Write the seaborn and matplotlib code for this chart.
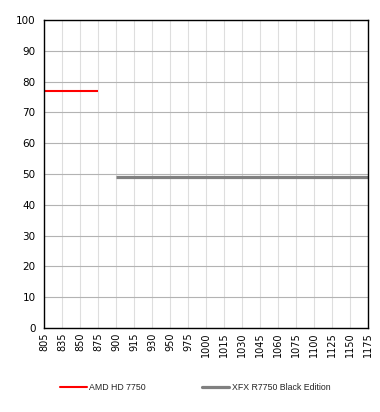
import matplotlib
matplotlib.use("Agg")
import matplotlib.pyplot as plt
import seaborn as sns
import pandas as pd
from matplotlib.lines import Line2D

categories = ["805", "835", "850", "875", "900", "915", "930", "950", "975", "1000",
              "1015", "1030", "1045", "1060", "1075", "1100", "1125", "1150", "1175"]
amd_x = ["805", "835", "850", "875"]
amd_y = [77, 77, 77, 77]
xfx_x = ["900", "915", "930", "950", "975", "1000", "1015", "1030", "1045", "1060",
         "1075", "1100", "1125", "1150", "1175"]
xfx_y = [49] * 15
series_names = ["AMD HD 7750", "XFX R7750 Black Edition"]
y_ticks = [0, 10, 20, 30, 40, 50, 60, 70, 80, 90, 100]

sns.set_theme(style="white")
plt.rcParams["font.family"] = ["DejaVu Sans"]

pos = {c: i for i, c in enumerate(categories)}
df = pd.DataFrame({
    "x": [pos[c] for c in amd_x] + [pos[c] for c in xfx_x],
    "y": amd_y + xfx_y,
    "series": [series_names[0]] * len(amd_x) + [series_names[1]] * len(xfx_x),
})

fig = plt.figure(figsize=(3.8, 4.12), dpi=100)
ax = fig.add_axes([44 / 380, 1 - 328 / 412, (368 - 44) / 380, (328 - 20) / 412])

palette = {series_names[0]: "#ff0000", series_names[1]: "#808080"}
for name, lw in zip(series_names, [1.5, 2.3]):
    sub = df[df["series"] == name]
    sns.lineplot(data=sub, x="x", y="y", color=palette[name], linewidth=lw, ax=ax,
                 legend=False, estimator=None, solid_capstyle="butt")

ax.set_xlim(0, len(categories) - 1)
ax.set_ylim(0, 100)
ax.set_xticks(range(len(categories)))
ax.set_xticklabels(categories, rotation=90, fontsize=7)
ax.set_yticks(y_ticks)
ax.set_yticklabels([str(v) for v in y_ticks], fontsize=7.5)
ax.set_xlabel("")
ax.set_ylabel("")

ax.xaxis.grid(True, color="#dedede", linewidth=0.8)
ax.yaxis.grid(True, color="#b3b3b3", linewidth=0.8)
ax.set_axisbelow(True)
for sp in ax.spines.values():
    sp.set_visible(True)
    sp.set_color("black")
    sp.set_linewidth(1.0)
ax.tick_params(axis="y", direction="in", length=4, width=1, color="black", pad=6, labelcolor="black")
ax.tick_params(axis="x", length=0, pad=3, labelcolor="black")

handles = [Line2D([0], [0], color="#ff0000", linewidth=1.5),
           Line2D([0], [0], color="#808080", linewidth=2.3)]
fig.legend(handles, series_names, loc="center", bbox_to_anchor=(195 / 380, 1 - 388 / 412),
           ncol=2, frameon=False, prop={"family": "Liberation Sans", "size": 6.3},
           handlelength=3.1, handletextpad=0.3, columnspacing=6.4)

fig.savefig("out.png", dpi=100)
